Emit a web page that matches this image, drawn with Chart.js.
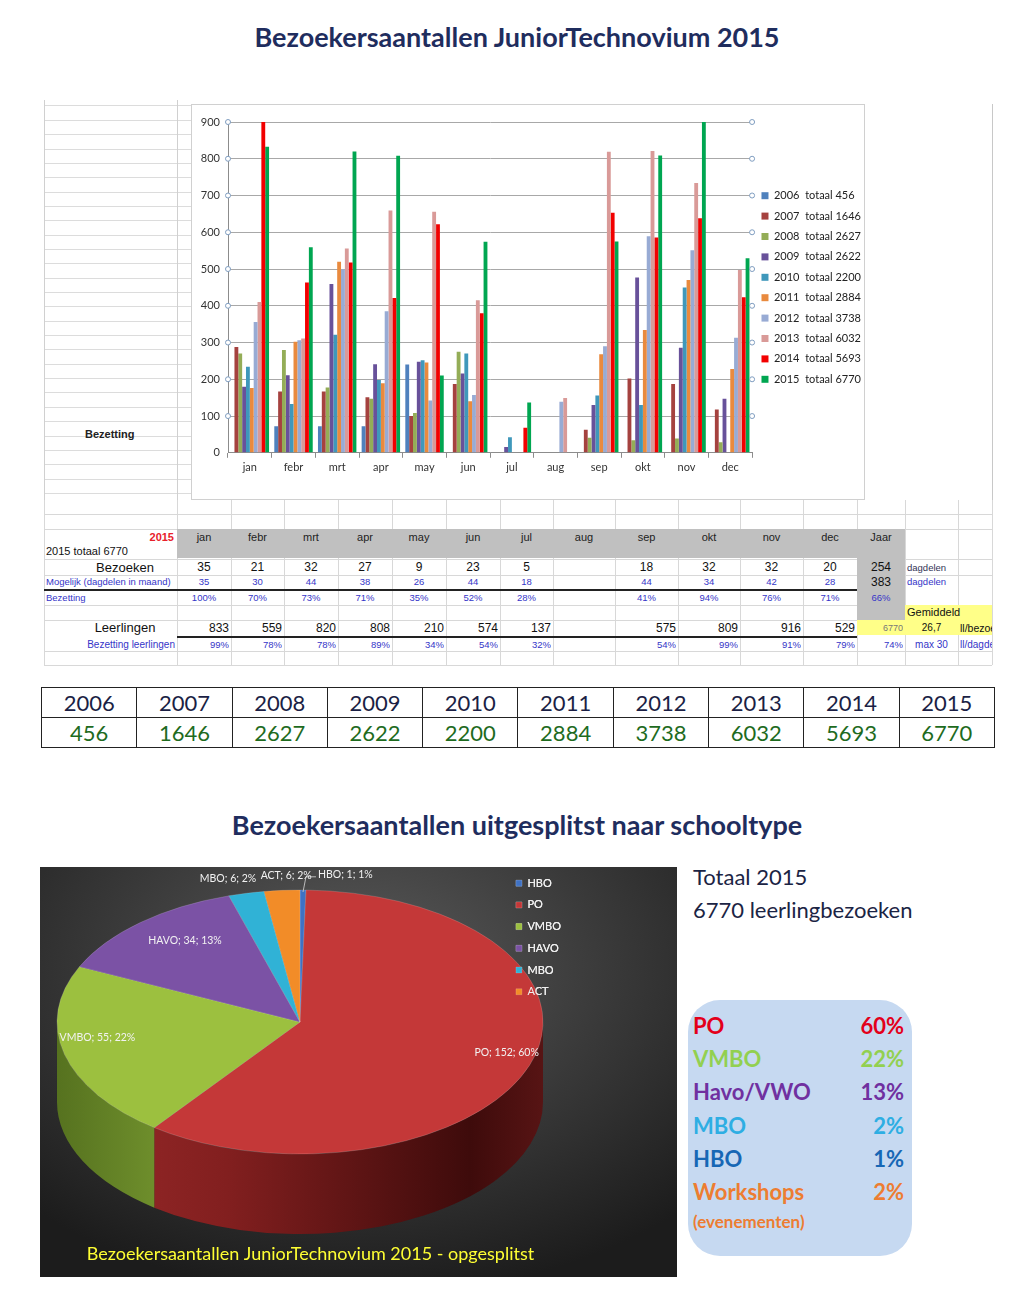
<!DOCTYPE html>
<html>
<head>
<meta charset="utf-8">
<title>Bezoekersaantallen JuniorTechnovium 2015</title>
<script src="https://cdn.jsdelivr.net/npm/chart.js@4.4.1/dist/chart.umd.min.js"></script>
<style>
  html, body { margin: 0; padding: 0; background: #fff; }
  body { position: relative; width: 1024px; height: 1295px; overflow: hidden; font-family: Lato, "Open Sans", sans-serif; }
  .abs { position: absolute; }
  .title { position: absolute; left: 0; width: 1034px; text-align: center; font-weight: bold; font-size: 27px; color: #1f2d5e; }
  .ss { position: absolute; font-family: "Liberation Sans", Arial, sans-serif; white-space: nowrap; overflow: hidden; }
  #leftRows { position: absolute; left: 44px; top: 100px; width: 148px; height: 400px;
    background-image: repeating-linear-gradient(to bottom, transparent 0, transparent 5.5px, #dcdcdc 5.5px, #dcdcdc 6.5px, transparent 6.5px, transparent 14.35px); }
  #barBox { position: absolute; left: 191px; top: 104px; width: 674px; height: 396px; background: #fff; border: 1px solid #d0d0d0; box-sizing: border-box; overflow: hidden; }
  #barBox canvas { position: absolute; left: 0; top: 0; }
  #yearTable { position: absolute; left: 41px; top: 687px; border-collapse: collapse; font-size: 22px; }
  #yearTable td { border: 1.5px solid #222; width: 94.3px; height: 29px; text-align: center; padding: 0; line-height: 29px; }
  #yearTable tr.y td { color: #1b1f45; }
  #yearTable tr.v td { color: #1e6b1e; }
  #pieBox { position: absolute; left: 40px; top: 867px; width: 637px; height: 410px; overflow: hidden;
    background: radial-gradient(ellipse 75% 80% at 50% 25%, #5a5a5a 0%, #3e3e3e 45%, #1c1c1c 100%); }
  #pieBox canvas { position: absolute; left: 0; top: 0; }
  .tot { position: absolute; left: 693px; font-size: 22px; color: #1b2444; }
  #shareBox { position: absolute; left: 688px; top: 1000px; width: 224px; height: 256px; border-radius: 32px; background: #c6d9f1; }
  .share { position: absolute; font-weight: bold; font-size: 22px; }
</style>
</head>
<body>
<div class="title" style="top:20px;">Bezoekersaantallen JuniorTechnovium 2015</div>

<div id="leftRows"></div>
<div class="abs" style="left:44px;top:100px;width:1px;height:565px;background:#d0d0d0;"></div>
<div class="abs" style="left:177px;top:100px;width:1px;height:400px;background:#d0d0d0;"></div>
<div class="abs" style="left:992px;top:104px;width:1px;height:561px;background:#c8c8c8;"></div>
<div class="ss" style="left:85px;top:428px;font-size:11px;font-weight:bold;color:#222;">Bezetting</div>

<div id="barBox"><canvas id="barChart" width="672" height="394"></canvas></div>

<div class="title" style="top:808px;">Bezoekersaantallen uitgesplitst naar schooltype</div>

<table id="yearTable">
  <tr class="y" id="yearRow"></tr>
  <tr class="v" id="totalRow"></tr>
</table>

<div id="pieBox"><canvas id="pieChart" width="637" height="410"></canvas></div>

<div class="tot" style="top:863px;">Totaal 2015</div>
<div class="tot" style="top:896px;">6770 leerlingbezoeken</div>
<div id="shareBox"></div>

<script>
// ---- data: monthly visitors per year (bar chart) ----
const months = ['jan', 'febr', 'mrt', 'apr', 'may', 'jun', 'jul', 'aug', 'sep', 'okt', 'nov', 'dec'];
const years = ['2006', '2007', '2008', '2009', '2010', '2011', '2012', '2013', '2014', '2015'];
const yearTotals = [456, 1646, 2627, 2622, 2200, 2884, 3738, 6032, 5693, 6770];

const v2006 = [null, 72, 72, 72, 240, null, null, null, null, null, null, null];
const v2007 = [288, 167, 167, 151, 100, 187, null, null, 63, 202, 187, 118];
const v2008 = [270, 280, 178, 147, 108, 275, null, null, 41, 34, 39, 29];
const v2009 = [180, 211, 459, 241, 248, 216, 16, null, 130, 477, 286, 147];
const v2010 = [234, 133, 321, 198, 252, 270, 42, null, 156, 130, 450, null];
const v2011 = [176, 302, 520, 189, 246, 140, null, null, 268, 334, 470, 228];
const v2012 = [356, 306, 499, 385, 142, 157, null, 139, 290, 589, 551, 313];
const v2013 = [410, 311, 556, 659, 656, 415, null, 149, 819, 821, 734, 497];
const v2014 = [915, 463, 518, 421, 622, 380, 68, null, 653, 586, 638, 423];
const v2015 = [833, 559, 820, 808, 210, 574, 137, null, 575, 809, 916, 529];

const yTicks = [0, 100, 200, 300, 400, 500, 600, 700, 800, 900];

// ---- data: 2015 sheet rows ----
const visits2015 = [35, 21, 32, 27, 9, 23, 5, null, 18, 32, 32, 20];
const possible2015 = [35, 30, 44, 38, 26, 44, 18, null, 44, 34, 42, 28];
const occupancy2015 = ['100%', '70%', '73%', '71%', '35%', '52%', '28%', '', '41%', '94%', '76%', '71%'];
const pupilOccupancy2015 = ['99%', '78%', '78%', '89%', '34%', '54%', '32%', '', '54%', '99%', '91%', '79%'];

// ---- data: school types (pie) ----
const schoolTypes = ['HBO', 'PO', 'VMBO', 'HAVO', 'MBO', 'ACT'];
const schoolCounts = [1, 152, 55, 34, 6, 6];
const schoolPct = [1, 60, 22, 13, 2, 2];

const shareNames = ['PO', 'VMBO', 'Havo/VWO', 'MBO', 'HBO', 'Workshops'];
const sharePct = ['60%', '22%', '13%', '2%', '1%', '2%'];

// ---- styling ----
const barColors = ['#4f81bd', '#a5423f', '#94ad57', '#68519a', '#3f98bb', '#e98a3e', '#98abd4', '#d99a98', '#f20000', '#00a651'];
const pieColors = ['#3f72c4', '#c43838', '#9cc03f', '#7b52a5', '#30b2d6', '#f28c28'];
const pieSideStops = [
  [['#27508f', 0], ['#1a3a6a', 1]],
  [['#9a2a2a', 0], ['#821f1f', 0.35], ['#3e0b0b', 0.85], ['#571414', 1]],
  [['#56721f', 0], ['#7a9c32', 0.3], ['#6a8a2a', 1]],
  [['#56387a', 0], ['#3c2456', 1]],
  [['#1f7f99', 0], ['#16627a', 1]],
  [['#b8661a', 0], ['#8a4a12', 1]]
];
const shareColors = ['#e3001b', '#92d050', '#7030a0', '#2eaee3', '#1767b5', '#ed7d31'];

/* -------------------------------------------------------------------------
   Spreadsheet part under the bar chart
   ------------------------------------------------------------------------- */
const colEdges = [44, 177, 231, 284, 338, 392, 446, 500, 553, 615, 678, 740, 803, 857, 905, 958, 992];

function box(x, y, w, h, color) {
  const d = document.createElement('div');
  d.className = 'abs';
  Object.assign(d.style, { left: x + 'px', top: y + 'px', width: w + 'px', height: h + 'px', background: color });
  document.body.appendChild(d);
  return d;
}

function txt(text, x, y, w, h, opts = {}) {
  const d = document.createElement('div');
  d.className = 'ss';
  Object.assign(d.style, {
    left: x + 'px', top: y + 'px', width: w + 'px', height: h + 'px', lineHeight: h + 'px',
    textAlign: opts.align || 'center', color: opts.color || '#111',
    fontSize: (opts.size || 12) + 'px', fontWeight: opts.bold ? 'bold' : 'normal'
  });
  d.textContent = text;
  document.body.appendChild(d);
}

function colCell(text, col, y, h, opts = {}) {
  const x = colEdges[col];
  const w = colEdges[col + 1] - x;
  const pad = opts.align === 'right' ? 2 : 0;
  txt(text, x, y, w - pad, h, opts);
}

// grid lines
[514, 529, 559, 575, 605, 620, 651, 665].forEach(y => box(44, y, 948, 1, '#d8d8d8'));
colEdges.forEach(x => box(x, 500, 1, 165, '#d8d8d8'));
// grey header + year column, yellow cells
box(177, 529, 728, 29, '#c0c0c0');
box(857, 529, 48, 91, '#c0c0c0');
box(905, 605, 87, 15, '#ffff88');
box(857, 620, 135, 15, '#ffff88');
// heavy rules
box(44, 589, 813, 2, '#222');
box(177, 636, 680, 2, '#222');

const BLUE = '#3535c8';
txt('2015', 44, 529, 130, 16, { align: 'right', color: '#e8202a', bold: true, size: 11 });
txt('2015  totaal 6770', 46, 544, 130, 14, { align: 'left', size: 11 });
txt('Bezoeken', 84, 560, 82, 15, { size: 13 });
txt('Mogelijk (dagdelen in maand)', 46, 576, 130, 12, { align: 'left', size: 9.5, color: BLUE });
txt('Bezetting', 46, 591, 120, 14, { align: 'left', size: 9.5, color: BLUE });
txt('Leerlingen', 84, 621, 82, 14, { size: 13 });
txt('Bezetting leerlingen', 44, 638, 131, 14, { align: 'right', size: 10, color: BLUE });

months.forEach((m, i) => {
  const c = i + 1;
  colCell(m, c, 529, 16, { size: 11, color: '#222' });
  colCell(visits2015[i] == null ? '' : String(visits2015[i]), c, 560, 15, { size: 12 });
  colCell(possible2015[i] == null ? '' : String(possible2015[i]), c, 576, 12, { size: 9.5, color: BLUE });
  colCell(occupancy2015[i], c, 591, 14, { size: 9.5, color: BLUE });
  colCell(v2015[i] == null ? '' : String(v2015[i]), c, 621, 14, { size: 12, align: 'right' });
  colCell(pupilOccupancy2015[i], c, 638, 14, { size: 9.5, color: BLUE, align: 'right' });
});
colCell('Jaar', 13, 529, 16, { size: 11, color: '#222' });
colCell(String(visits2015.reduce((a, b) => a + (b || 0), 0)), 13, 560, 15, { size: 12 });
colCell(String(possible2015.reduce((a, b) => a + (b || 0), 0)), 13, 576, 12, { size: 12 });
colCell('66%', 13, 591, 14, { size: 9.5, color: BLUE });
colCell(String(yearTotals[9]), 13, 622, 12, { size: 9, color: '#777', align: 'right' });
colCell('74%', 13, 638, 14, { size: 9.5, color: BLUE, align: 'right' });
txt('dagdelen', 907, 560, 60, 15, { align: 'left', size: 9.5, color: '#333355' });
txt('dagdelen', 907, 576, 60, 12, { align: 'left', size: 9.5, color: BLUE });
txt('Gemiddeld', 907, 605, 85, 15, { align: 'left', size: 11 });
colCell('26,7', 14, 621, 14, { size: 10 });
colCell('max 30', 14, 638, 14, { size: 10, color: BLUE });
txt('ll/bezoek', 960, 621, 32, 14, { align: 'left', size: 10.5 });
txt('ll/dagdeel', 960, 638, 32, 14, { align: 'left', size: 10, color: BLUE });

// year totals table
years.forEach((y, i) => {
  const a = document.createElement('td'); a.textContent = y; document.getElementById('yearRow').appendChild(a);
  const b = document.createElement('td'); b.textContent = yearTotals[i]; document.getElementById('totalRow').appendChild(b);
});

// share box on the right
shareNames.forEach((n, i) => {
  const top = 1012 + i * 33.2;
  const a = document.createElement('div');
  a.className = 'share'; a.style.left = '693px'; a.style.top = top + 'px'; a.style.color = shareColors[i]; a.textContent = n;
  const b = document.createElement('div');
  b.className = 'share'; b.style.left = '842px'; b.style.width = '62px'; b.style.textAlign = 'right';
  b.style.top = top + 'px'; b.style.color = shareColors[i]; b.textContent = sharePct[i];
  document.body.appendChild(a); document.body.appendChild(b);
});
const ev = document.createElement('div');
ev.className = 'share'; ev.style.left = '693px'; ev.style.top = '1211px'; ev.style.fontSize = '17px';
ev.style.color = shareColors[5]; ev.textContent = '(evenementen)';
document.body.appendChild(ev);

/* -------------------------------------------------------------------------
   Bar chart
   ------------------------------------------------------------------------- */
const series = [v2006, v2007, v2008, v2009, v2010, v2011, v2012, v2013, v2014, v2015];

// little selection handles at the gridline ends (Excel look)
const handlePlugin = {
  id: 'handles',
  afterDraw(chart) {
    const { ctx, chartArea, scales: { y } } = chart;
    ctx.save();
    ctx.strokeStyle = '#7f9dc0';
    ctx.fillStyle = '#fff';
    ctx.lineWidth = 1;
    y.ticks.forEach((t, i) => {
      if (t.value === 0) return;
      const py = y.getPixelForTick(i);
      [chartArea.left, chartArea.right].forEach(px => {
        ctx.beginPath();
        ctx.arc(px, py, 2.5, 0, Math.PI * 2);
        ctx.fill();
        ctx.stroke();
      });
    });
    ctx.restore();
  }
};

// nudge the legend a little up, like in the sheet
const legendShift = {
  id: 'legendShift',
  afterLayout(chart, args, opts) {
    if (chart.legend) {
      chart.legend.top -= opts.dy;
      chart.legend.bottom -= opts.dy;
    }
  }
};

const barCtx = document.getElementById('barChart').getContext('2d');
window.barChart = new Chart(barCtx, {
  type: 'bar',
  data: {
    labels: months,
    datasets: years.map((y, i) => ({
      label: `${y}  totaal ${yearTotals[i]}`,
      data: series[i],
      backgroundColor: barColors[i],
      borderWidth: 0,
      categoryPercentage: 0.88,
      barPercentage: 1.0
    }))
  },
  options: {
    responsive: false,
    animation: false,
    layout: { padding: { top: 17, bottom: 22, left: 0, right: -7 } },
    plugins: {
      legend: {
        position: 'right',
        labels: {
          boxWidth: 7,
          boxHeight: 7,
          padding: 9.4,
          color: '#222',
          font: { family: 'Lato', size: 11 }
        }
      },
      legendShift: { dy: 12 },
      tooltip: { enabled: false }
    },
    scales: {
      x: {
        grid: { offset: true, drawOnChartArea: false, tickLength: 5, color: '#8c8c8c' },
        border: { color: '#8c8c8c' },
        ticks: { padding: 3, color: '#333', font: { family: 'Lato', size: 11 } }
      },
      y: {
        min: yTicks[0],
        max: yTicks[yTicks.length - 1],
        afterFit(scale) { scale.width = 36; },
        afterBuildTicks(scale) { scale.ticks = yTicks.map(v => ({ value: v })); },
        grid: { color: '#a8a8a8', drawTicks: false },
        border: { color: '#8c8c8c' },
        ticks: { padding: 8, color: '#333', font: { family: 'Lato', size: 11 } }
      }
    }
  },
  plugins: [handlePlugin, legendShift]
});

/* -------------------------------------------------------------------------
   Pie chart, tilted with a fake 3D wall
   ------------------------------------------------------------------------- */
const PIE_CX = 260, PIE_CY = 155, PIE_RX = 243, PIE_RY = 132, PIE_DEPTH = 80;
const labelRadius = [1.1, 0.9, 0.86, 0.72, 1.1, 1.1];
const labelDx = [42, 0, 0, 0, -13, 6];
const labelDy = [-2, -8, -12, -10, -2, -2];

const pie3d = {
  id: 'pie3d',
  beforeDatasetsDraw(chart) {
    const ctx = chart.ctx;
    const arcs = chart.getDatasetMeta(0).data;
    const { x, y, outerRadius: r } = arcs[0];
    const sy = PIE_RY / r;
    ctx.save();
    ctx.translate(PIE_CX, PIE_CY);
    ctx.scale(PIE_RX / r, sy);
    ctx.translate(-x, -y);
    const d = PIE_DEPTH / sy;
    // outer wall, only the front half is visible
    arcs.forEach((arc, i) => {
      const a = Math.max(arc.startAngle, 0);
      const b = Math.min(arc.endAngle, Math.PI);
      if (b <= a) return;
      const g = ctx.createLinearGradient(x - r, 0, x + r, 0);
      pieSideStops[i].forEach(([c, s]) => g.addColorStop(s, c));
      ctx.beginPath();
      ctx.arc(x, y, r, a, b);
      ctx.arc(x, y + d, r, b, a, true);
      ctx.closePath();
      ctx.fillStyle = g;
      ctx.fill();
    });
  },
  afterDatasetsDraw(chart) {
    const ctx = chart.ctx;
    ctx.restore();
    const arcs = chart.getDatasetMeta(0).data;
    ctx.save();
    ctx.font = '10.5px Lato';
    ctx.fillStyle = '#f2f2f2';
    ctx.textAlign = 'center';
    ctx.textBaseline = 'middle';
    arcs.forEach((arc, i) => {
      const mid = (arc.startAngle + arc.endAngle) / 2;
      const f = labelRadius[i];
      const px = PIE_CX + PIE_RX * f * Math.cos(mid) + labelDx[i];
      const py = PIE_CY + PIE_RY * f * Math.sin(mid) + labelDy[i];
      const label = `${chart.data.labels[i]}; ${schoolCounts[i]}; ${schoolPct[i]}%`;
      ctx.fillText(label, px, py);
      if (labelDx[i] > 20) {
        const w = ctx.measureText(label).width;
        ctx.strokeStyle = '#bbbbbb';
        ctx.lineWidth = 1;
        ctx.beginPath();
        ctx.moveTo(PIE_CX + PIE_RX * Math.cos(mid), PIE_CY + PIE_RY * Math.sin(mid) + 2);
        ctx.lineTo(px - w / 2 - 12, py + 2);
        ctx.lineTo(px - w / 2 - 2, py + 2);
        ctx.stroke();
      }
    });
    ctx.restore();
    // legend sits over the pie edge, so draw it again on top
    if (chart.legend) chart.legend.draw();
  }
};

const pieCtx = document.getElementById('pieChart').getContext('2d');
window.pieChart = new Chart(pieCtx, {
  type: 'pie',
  data: {
    labels: schoolTypes,
    datasets: [{
      data: schoolCounts,
      backgroundColor: pieColors,
      borderWidth: 0.6,
      borderColor: 'rgba(255,255,255,0.25)'
    }]
  },
  options: {
    responsive: false,
    animation: false,
    layout: { padding: { top: 0, bottom: 0, left: 10, right: 106 } },
    plugins: {
      legend: {
        position: 'right',
        align: 'start',
        labels: {
          boxWidth: 6,
          boxHeight: 6,
          padding: 10.7,
          color: '#eeeeee',
          font: { family: 'Lato', size: 11 }
        }
      },
      title: {
        display: true,
        position: 'bottom',
        text: 'Bezoekersaantallen JuniorTechnovium 2015 - opgesplitst',
        color: '#ffff33',
        font: { family: 'Lato', size: 18, weight: 'normal' },
        padding: { top: 0, bottom: 12 }
      },
      tooltip: { enabled: false }
    }
  },
  plugins: [pie3d]
});
</script>
</body>
</html>
